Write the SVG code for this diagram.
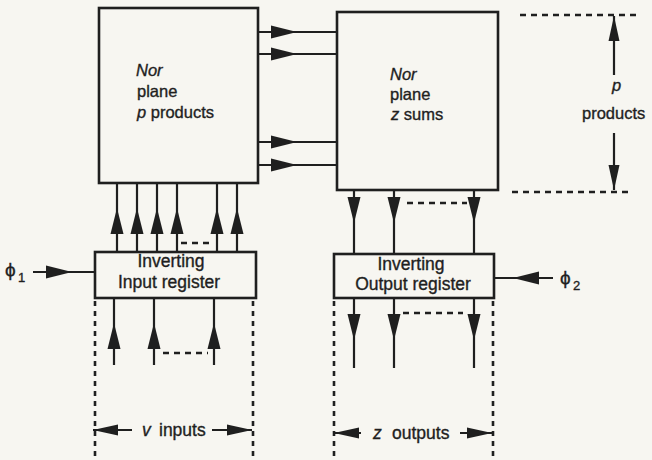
<svg xmlns="http://www.w3.org/2000/svg" xmlns:xlink="http://www.w3.org/1999/xlink" width="652" height="460" viewBox="0 0 652 460">
<style>
.box{fill:none;stroke:#1f1f1f;stroke-width:2.6}
.ln{fill:none;stroke:#1f1f1f;stroke-width:2.2}
.dash{fill:none;stroke:#1f1f1f;stroke-width:2.6;stroke-dasharray:6 5}
.vdash{fill:none;stroke:#1f1f1f;stroke-width:2.6;stroke-dasharray:5 5}
.ah{fill:#1f1f1f}
text{font-family:"Liberation Sans",Arial,sans-serif;fill:#1f1f1f;stroke:#1f1f1f;stroke-width:0.35}
.t{font-size:16.5px}
.r{font-size:17.5px}
.it{font-style:italic}
</style>
<defs>
<path id="ah" d="M0,0 L-26,-6.5 L-26,6.5 Z"/>
<path id="ahs" d="M0,0 L-25,-5.5 L-25,5.5 Z"/>
</defs>
<rect width="652" height="460" fill="#f7f6f1"/>

<g id="nor-products">
<rect class="box" x="99" y="8" width="159" height="175"/>
<text class="t" x="136" y="76"><tspan class="it">Nor</tspan></text>
<text class="t" x="137" y="97">plane</text>
<text class="t" x="137" y="118"><tspan class="it">p</tspan> products</text>
</g>

<g id="nor-sums">
<rect class="box" x="337" y="12" width="161" height="178"/>
<text class="t" x="390" y="80"><tspan class="it">Nor</tspan></text>
<text class="t" x="390" y="100">plane</text>
<text class="t" x="391" y="120"><tspan class="it">z</tspan> sums</text>
</g>

<g id="input-register">
<rect class="box" x="95" y="252" width="161" height="46"/>
<text class="r" x="171" y="267" text-anchor="middle">Inverting</text>
<text class="r" x="169" y="288" text-anchor="middle">Input register</text>
</g>

<g id="output-register">
<rect class="box" x="334" y="254" width="160" height="44"/>
<text class="r" x="411" y="270" text-anchor="middle">Inverting</text>
<text class="r" x="413" y="290" text-anchor="middle">Output register</text>
</g>

<g id="connectors">
<path class="ln" d="M258,32H337M258,54H337M258,142H337M258,165H337"/>
<use href="#ah" class="ah" transform="translate(297,32)"/>
<use href="#ah" class="ah" transform="translate(297,54)"/>
<use href="#ah" class="ah" transform="translate(297,142)"/>
<use href="#ah" class="ah" transform="translate(297,165)"/>
<path class="ln" d="M117,252V183M137,252V183M157,252V183M177,252V183M217,252V183M237,252V183"/>
<use href="#ah" class="ah" transform="translate(117,208) rotate(-90)"/>
<use href="#ah" class="ah" transform="translate(137,208) rotate(-90)"/>
<use href="#ah" class="ah" transform="translate(157,208) rotate(-90)"/>
<use href="#ah" class="ah" transform="translate(177,208) rotate(-90)"/>
<use href="#ah" class="ah" transform="translate(217,208) rotate(-90)"/>
<use href="#ah" class="ah" transform="translate(237,208) rotate(-90)"/>
<path class="dash" d="M181,243H213"/>
<path class="ln" d="M114,365V298M154,365V298M214,365V298"/>
<use href="#ah" class="ah" transform="translate(114,323) rotate(-90)"/>
<use href="#ah" class="ah" transform="translate(154,323) rotate(-90)"/>
<use href="#ah" class="ah" transform="translate(214,323) rotate(-90)"/>
<path class="dash" d="M163,353H208"/>
<path class="ln" d="M33,272H95"/>
<use href="#ah" class="ah" transform="translate(72,272)"/>
<path class="ln" d="M354,190V254M394,190V254M474,190V254"/>
<use href="#ah" class="ah" transform="translate(354,223) rotate(90)"/>
<use href="#ah" class="ah" transform="translate(394,223) rotate(90)"/>
<use href="#ah" class="ah" transform="translate(474,223) rotate(90)"/>
<path class="dash" d="M407,203H467"/>
<path class="ln" d="M354,298V368M394,298V368M474,298V368"/>
<use href="#ah" class="ah" transform="translate(354,340) rotate(90)"/>
<use href="#ah" class="ah" transform="translate(394,340) rotate(90)"/>
<use href="#ah" class="ah" transform="translate(474,340) rotate(90)"/>
<path class="dash" d="M403,313H463"/>
<path class="ln" d="M494,278H553"/>
<use href="#ah" class="ah" transform="translate(513,278) rotate(180)"/>
</g>

<g id="annotations">
<text x="5" y="276" style="font-size:19px">ϕ</text>
<text x="18" y="282" style="font-size:13px">1</text>
<text x="560" y="284" style="font-size:19px">ϕ</text>
<text x="573" y="290" style="font-size:13px">2</text>

<path class="vdash" d="M95,301V460M253,301V460"/>
<path class="ln" d="M93,430H132M212,430H252"/>
<use href="#ahs" class="ah" transform="translate(93,430) rotate(180)"/>
<use href="#ahs" class="ah" transform="translate(252,430)"/>
<text class="r it" x="142" y="436">v</text>
<text class="r" x="159" y="436">inputs</text>

<path class="vdash" d="M334,301V460M493,301V460"/>
<path class="ln" d="M334,433H361M460,433H492"/>
<use href="#ahs" class="ah" transform="translate(334,433) rotate(180)"/>
<use href="#ahs" class="ah" transform="translate(492,433)"/>
<text class="r it" x="373" y="439">z</text>
<text class="r" x="392" y="439">outputs</text>

<path class="dash" d="M520,15H638M512,192H629"/>
<path class="ln" d="M614,16V75M614,133V190"/>
<use href="#ahs" class="ah" transform="translate(614,16) rotate(-90)"/>
<use href="#ahs" class="ah" transform="translate(614,190) rotate(90)"/>
<text class="t it" x="612" y="91">p</text>
<text class="t" x="582" y="119">products</text>
</g>
</svg>
